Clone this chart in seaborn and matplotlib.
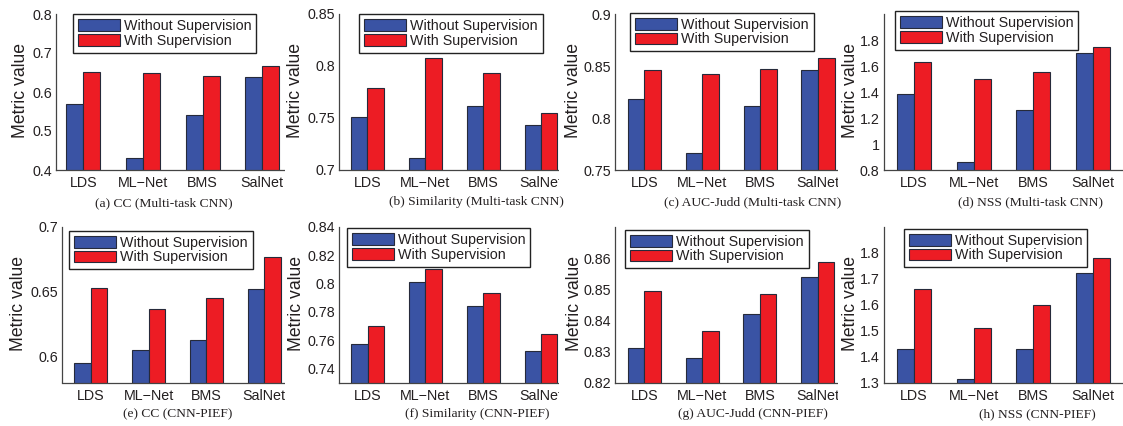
import numpy as np
import pandas as pd
import matplotlib
matplotlib.use("Agg")
import matplotlib.pyplot as plt
from matplotlib.patches import Rectangle
from matplotlib.ticker import FuncFormatter
import seaborn as sns

# ---------------- data ----------------
methods = ["LDS", "ML\u2212Net", "BMS", "SalNet"]
series = ["Without Supervision", "With Supervision"]

cc_mt_without = [0.568, 0.430, 0.540, 0.638]
cc_mt_with = [0.652, 0.648, 0.640, 0.667]
sim_mt_without = [0.751, 0.712, 0.762, 0.743]
sim_mt_with = [0.779, 0.808, 0.793, 0.755]
auc_mt_without = [0.818, 0.766, 0.812, 0.846]
auc_mt_with = [0.846, 0.842, 0.847, 0.858]
nss_mt_without = [1.387, 0.862, 1.259, 1.697]
nss_mt_with = [1.633, 1.498, 1.551, 1.749]

cc_pief_without = [0.595, 0.605, 0.613, 0.652]
cc_pief_with = [0.653, 0.637, 0.645, 0.677]
sim_pief_without = [0.757, 0.801, 0.784, 0.752]
sim_pief_with = [0.770, 0.810, 0.793, 0.764]
auc_pief_without = [0.831, 0.828, 0.842, 0.854]
auc_pief_with = [0.8495, 0.8366, 0.8486, 0.8588]
nss_pief_without = [1.428, 1.315, 1.428, 1.724]
nss_pief_with = [1.662, 1.509, 1.600, 1.781]

captions = [
    "(a) CC (Multi-task CNN)", "(b) Similarity (Multi-task CNN)",
    "(c) AUC-Judd (Multi-task CNN)", "(d) NSS (Multi-task CNN)",
    "(e) CC (CNN-PIEF)", "(f) Similarity (CNN-PIEF)",
    "(g) AUC-Judd (CNN-PIEF)", "(h) NSS (CNN-PIEF)",
]
ylabel_text = "Metric value"

ylims = [(0.4, 0.8), (0.7, 0.85), (0.75, 0.9), (0.8, 2.0),
         (0.58, 0.7), (0.73, 0.84), (0.82, 0.87), (1.3, 1.9)]
yticks = [
    [0.4, 0.5, 0.6, 0.7, 0.8],
    [0.7, 0.75, 0.8, 0.85],
    [0.75, 0.8, 0.85, 0.9],
    [0.8, 1.0, 1.2, 1.4, 1.6, 1.8],
    [0.6, 0.65, 0.7],
    [0.74, 0.76, 0.78, 0.8, 0.82, 0.84],
    [0.82, 0.83, 0.84, 0.85, 0.86],
    [1.3, 1.4, 1.5, 1.6, 1.7, 1.8],
]
panels_without = [cc_mt_without, sim_mt_without, auc_mt_without, nss_mt_without,
                  cc_pief_without, sim_pief_without, auc_pief_without, nss_pief_without]
panels_with = [cc_mt_with, sim_mt_with, auc_mt_with, nss_mt_with,
               cc_pief_with, sim_pief_with, auc_pief_with, nss_pief_with]

# ---------------- layout (pixels) ----------------
W, H = 1123, 426
# spine_left, first category centre, last category centre
xgeom = [(56, 83.3, 262.3), (339.3, 367.5, 541), (615, 644.3, 818), (883.7, 914, 1093),
         (62, 90.7, 264.3), (339.3, 367.7, 541), (615, 644.3, 817.7), (884, 914, 1093)]
rows = [(14, 170), (227, 382.5)]
legend_pos = [(72.7, 14), (359, 14), (630, 12.7), (894.7, 11),
              (69, 230.7), (346.7, 228), (625, 229.7), (903.7, 228.7)]
caption_pos = [(164, 203), (476, 202), (753, 202), (1031, 202),
               (178, 414), (477, 414), (753, 414), (1037, 414)]
ylabel_x = [28.7, 304.4, 581.7, 858.7, 26.7, 305.4, 582.7, 858.7]
image_left = [None, 285, 559, 838]

BLUE = "#3A53A4"
RED = "#ED1C24"
EDGE = "#262a3a"
TXT = "#231f20"

sns.set_style("white")
plt.rcParams["font.family"] = ["Liberation Sans", "DejaVu Sans"]

fig = plt.figure(figsize=(W / 100, H / 100), dpi=100)
fig.patch.set_facecolor("white")

fmt = FuncFormatter(lambda v, p: "{:g}".format(round(v, 4)))

for i in range(8):
    r, c = divmod(i, 4)
    top, bot = rows[r]
    sl, c0, c3 = xgeom[i]
    sp = (c3 - c0) / 3.0
    right = c3 + 0.5 * sp
    ax = fig.add_axes([sl / W, 1 - bot / H, (right - sl) / W, (bot - top) / H])
    ax.set_zorder(c + 1)
    df = pd.DataFrame({
        "method": methods * 2,
        "series": [series[0]] * 4 + [series[1]] * 4,
        "value": list(panels_without[i]) + list(panels_with[i]),
    })
    sns.barplot(data=df, x="method", y="value", hue="series", order=methods,
                hue_order=series, palette=[BLUE, RED], saturation=1,
                width=0.57, edgecolor=EDGE, linewidth=0.8, errorbar=None, ax=ax)
    ax.set_xlim(-(c0 - sl) / sp, 3.5)
    ax.set_ylim(*ylims[i])
    ax.set_yticks(yticks[i])
    ax.yaxis.set_major_formatter(fmt)
    ax.set_xlabel("")
    ax.set_ylabel(ylabel_text, fontsize=12.7, color=TXT)
    ax.yaxis.set_label_coords(ylabel_x[i] / W, 1 - ((top + bot) / 2 - 1) / H,
                              transform=fig.transFigure)
    for s in ["top", "right"]:
        ax.spines[s].set_visible(False)
    for s in ["left", "bottom"]:
        ax.spines[s].set_linewidth(0.9)
        ax.spines[s].set_color("#444444")
    ax.tick_params(axis="both", direction="in", width=0.8,
                   color="#444444", labelcolor=TXT, labelsize=10.3)
    ax.tick_params(axis="x", pad=4.5, length=0)
    ax.tick_params(axis="y", pad=3, length=3)

    handles, labels = ax.get_legend_handles_labels()
    lx, ly = legend_pos[i]
    leg = ax.legend(handles, labels, loc="upper left",
                    bbox_to_anchor=(lx / W, 1 - ly / H), bbox_transform=fig.transFigure,
                    borderaxespad=0, frameon=True, fancybox=False, framealpha=1,
                    edgecolor="#222222", fontsize=10.3, handlelength=2.94,
                    handleheight=0.89, handletextpad=0.28, borderpad=0.35,
                    labelspacing=0.05)
    leg.get_frame().set_linewidth(1.0)
    for t in leg.get_texts():
        t.set_color(TXT)

    cx, cy = caption_pos[i]
    fig.text(cx / W, 1 - cy / H, captions[i], ha="center", va="center",
             family=["Liberation Serif", "DejaVu Serif"], fontsize=9.7,
             color=TXT, zorder=20)

    # emulate overlapping panel images: white sheet at the panel's left edge
    if c > 0:
        x0 = image_left[c]
        y_top = 0 if r == 0 else 213
        y_bot = 213 if r == 0 else H
        fig.add_artist(Rectangle((x0 / W, 1 - y_bot / H), (sl - 1 - x0) / W,
                                 (y_bot - y_top) / H, transform=fig.transFigure,
                                 facecolor="white", edgecolor="none", zorder=c + 0.5))

fig.savefig("out.png", dpi=100, facecolor="white")
